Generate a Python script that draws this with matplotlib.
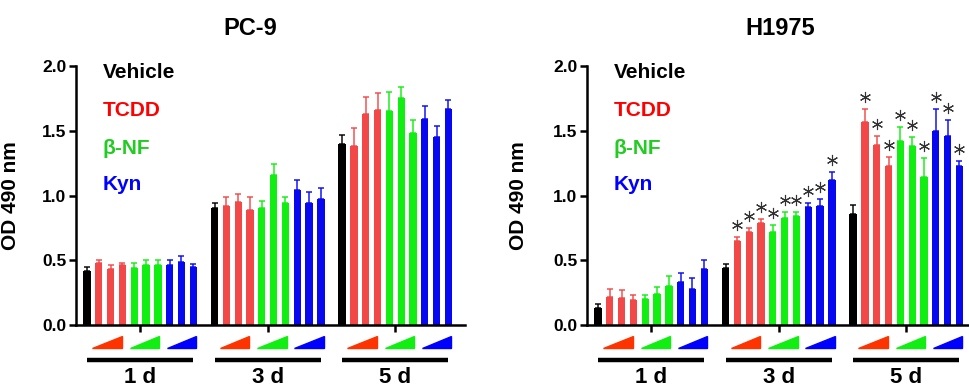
import matplotlib.pyplot as plt
import matplotlib.transforms as mtransforms
from matplotlib.patches import Polygon

plt.rcParams['font.family'] = ['Liberation Sans', 'DejaVu Sans']
plt.rcParams['font.weight'] = 'bold'

# data
days = ["1 d", "3 d", "5 d"]
treatments = ["Vehicle", "TCDD", "β-NF", "Kyn"]
# one value per bar: vehicle, TCDD x3, b-NF x3, Kyn x3
pc9_1d = [0.42, 0.48, 0.43, 0.46, 0.44, 0.46, 0.46, 0.46, 0.49, 0.45]
pc9_1d_err = [0.03, 0.02, 0.03, 0.02, 0.04, 0.04, 0.04, 0.04, 0.04, 0.02]
pc9_3d = [0.90, 0.92, 0.95, 0.89, 0.90, 1.16, 0.94, 1.04, 0.94, 0.97]
pc9_3d_err = [0.04, 0.07, 0.06, 0.10, 0.06, 0.08, 0.05, 0.08, 0.09, 0.09]
pc9_5d = [1.40, 1.38, 1.63, 1.66, 1.65, 1.75, 1.48, 1.59, 1.45, 1.67]
pc9_5d_err = [0.07, 0.14, 0.13, 0.13, 0.15, 0.09, 0.10, 0.10, 0.09, 0.07]

h1975_1d = [0.13, 0.22, 0.21, 0.19, 0.20, 0.24, 0.30, 0.33, 0.28, 0.43]
h1975_1d_err = [0.03, 0.06, 0.06, 0.04, 0.03, 0.05, 0.08, 0.07, 0.08, 0.07]
h1975_3d = [0.44, 0.65, 0.72, 0.79, 0.72, 0.83, 0.84, 0.91, 0.92, 1.12]
h1975_3d_err = [0.03, 0.03, 0.03, 0.03, 0.05, 0.04, 0.03, 0.03, 0.05, 0.06]
h1975_5d = [0.86, 1.57, 1.39, 1.23, 1.42, 1.38, 1.14, 1.50, 1.46, 1.23]
h1975_5d_err = [0.07, 0.10, 0.07, 0.07, 0.11, 0.07, 0.15, 0.17, 0.12, 0.04]

h1975_sig_1d = [0] * 10
h1975_sig_3d = [0] + [1] * 9
h1975_sig_5d = [0] + [1] * 9

bar_colors = ['black'] + ['#f24848'] * 3 + ['#11ee11'] * 3 + ['#0808f0'] * 3
text_colors = ['black', '#ff0000', '#22cc22', '#0000ff']
tri_colors = ['#ff3300', '#11ee11', '#0000ff']

fig = plt.figure(figsize=(9.7, 3.9), dpi=100)

group_step = 10.8


def draw_panel(ax, means, errs, sigs, title_x, title):
    for g, (m, e, s) in enumerate(zip(means, errs, sigs)):
        x0 = g * group_step
        xs = [x0 + i for i in range(10)]
        for i in range(10):
            ax.bar(xs[i], m[i], width=0.62, color=bar_colors[i], zorder=2)
            ax.errorbar(xs[i], m[i], yerr=[[0], [e[i]]], color=bar_colors[i],
                        alpha=0.8, elinewidth=1.3, capsize=2.2, capthick=1.3,
                        zorder=1)
            if s[i]:
                star_tr = mtransforms.offset_copy(ax.transData, fig=fig,
                                                  y=12, units='dots')
                ax.plot(xs[i], m[i] + e[i], marker=(6, 2, 0), ms=8,
                        mew=0.8, color='#333333', transform=star_tr,
                        clip_on=False)
        # dose triangles
        trans = mtransforms.blended_transform_factory(ax.transData, ax.transAxes)
        for k, c in enumerate(tri_colors):
            cx = x0 + 2 + 3 * k - 0.3 + 0.15 * k
            tri = Polygon([[cx - 1.25, -0.089], [cx + 1.25, -0.089],
                           [cx + 1.25, -0.042]], closed=True, color=c,
                          transform=trans, clip_on=False)
            ax.add_patch(tri)
        ax.plot([x0, x0 + 9], [-0.135, -0.135], color='black', lw=3.2,
                solid_capstyle='butt', transform=trans, clip_on=False)
        ax.text(x0 + 4.5, -0.245, days[g], transform=trans, ha='center',
                va='bottom', fontsize=16, fontweight='bold')

    ax.set_xlim(-0.93, 32.0)
    ax.set_ylim(0, 2.0)
    ax.set_yticks([0, 0.5, 1.0, 1.5, 2.0])
    ax.set_yticklabels(['0.0', '0.5', '1.0', '1.5', '2.0'])
    ax.set_xticks([g * group_step + 4.5 for g in range(3)])
    ax.set_xticklabels([])
    ax.tick_params(width=1.8, length=5, labelsize=12.5, pad=2)
    for side in ['top', 'right']:
        ax.spines[side].set_visible(False)
    for side in ['left', 'bottom']:
        ax.spines[side].set_linewidth(1.8)
    ax.set_ylabel('OD 490 nm', fontsize=15, fontweight='bold')

    for k, (name, c) in enumerate(zip(treatments, text_colors)):
        ax.text(0.068, [0.973, 0.830, 0.683, 0.541][k], name, color=c,
                transform=ax.transAxes, ha='left', va='center',
                fontsize=15, fontweight='bold')
    fig.text(title_x, 0.928, title, ha='center', va='center',
             fontsize=17, fontweight='bold')


ax1 = fig.add_axes([76 / 970, 65 / 390, 389 / 970, 259 / 390])
draw_panel(ax1, [pc9_1d, pc9_3d, pc9_5d], [pc9_1d_err, pc9_3d_err, pc9_5d_err],
           [[0] * 10] * 3, 250 / 970, 'PC-9')
ax1.yaxis.set_label_coords(-0.144, 0.5)

ax2 = fig.add_axes([587 / 970, 65 / 390, 389 / 970, 259 / 390])
draw_panel(ax2, [h1975_1d, h1975_3d, h1975_5d],
           [h1975_1d_err, h1975_3d_err, h1975_5d_err],
           [h1975_sig_1d, h1975_sig_3d, h1975_sig_5d], 780 / 970, 'H1975')
ax2.yaxis.set_label_coords(-0.152, 0.5)

fig.savefig('out.png', dpi=100)
